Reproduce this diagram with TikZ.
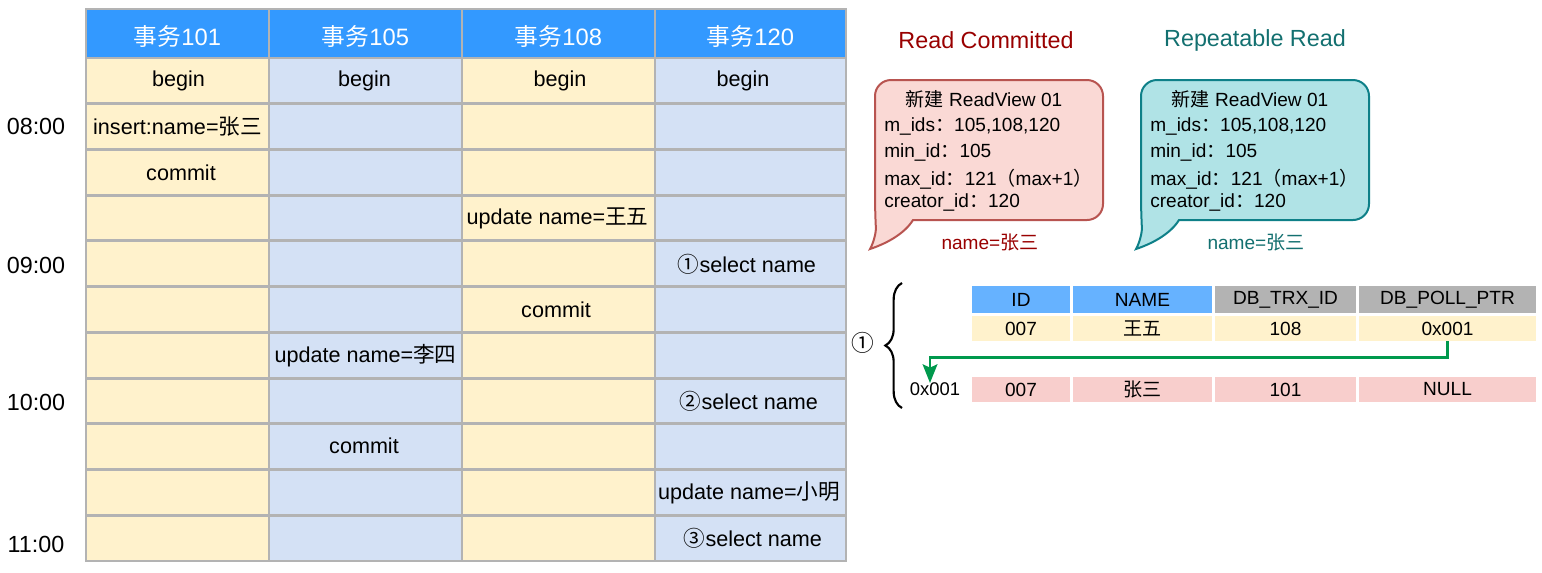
\documentclass[tikz,border=0pt]{standalone}
\usepackage{fontspec}
\setmainfont{Liberation Sans}
\newfontfamily\cjk{Noto Sans CJK SC}
\usetikzlibrary{arrows.meta,decorations.pathreplacing}
\definecolor{hdr}{HTML}{3399FF}
\definecolor{ylw}{HTML}{FFF2CC}
\definecolor{blu}{HTML}{D4E1F5}
\definecolor{gridc}{HTML}{B3B3B3}
\definecolor{rcred}{HTML}{990000}
\definecolor{rrteal}{HTML}{137070}
\definecolor{calredfill}{HTML}{FAD9D5}
\definecolor{calredline}{HTML}{B85450}
\definecolor{caltealfill}{HTML}{B0E3E6}
\definecolor{caltealline}{HTML}{0E8088}
\definecolor{thblue}{HTML}{66B2FF}
\definecolor{thgray}{HTML}{B3B3B3}
\definecolor{rowred}{HTML}{F8CECC}
\definecolor{arrgreen}{HTML}{00994D}
\begin{document}
\begin{tikzpicture}[x=0.75pt,y=-0.75pt,
  gridline/.style={draw=gridc,line width=2.2pt},
  ctext/.style={inner sep=0pt,font=\fontsize{16.2}{19}\selectfont},
  htext/.style={inner sep=0pt,text=white,font=\fontsize{17.8}{20}\selectfont},
  ttext/.style={inner sep=0pt,font=\fontsize{17.5}{20}\selectfont},
  ktext/.style={inner sep=0pt,font=\fontsize{14.3}{17}\selectfont},
  tcell/.style={inner sep=0pt,font=\fontsize{14.3}{17}\selectfont,minimum height=18.75pt},
  arr/.style={draw=arrgreen,line width=2pt,-{Stealth[length=14pt,width=11pt,inset=2.5pt]}},
]
\useasboundingbox (0,0) rectangle (1542,572);
\fill[white] (0,0) rectangle (1542,572);
% ---- main grid ----
\foreach \xl/\xr/\col in {86/269/ylw,269/462/blu,462/655/ylw,655/846/blu}{
  \fill[\col] (\xl,58) rectangle (\xr,561);
  \fill[hdr] (\xl,9) rectangle (\xr,58);
}
\foreach \i in {0,...,10}{
  \draw[gridline] (86,{58+\i*45.727}) -- (846,{58+\i*45.727});
}
\foreach \x in {269,462,655}{
  \draw[gridline] (\x,9) -- (\x,561);
}
\draw[gridline] (86,9) rectangle (846,561);
% headers
\node[htext] (h1) at (177.5,36) {{\cjk 事务}101};
\node[htext] (h2) at (365.5,36) {{\cjk 事务}105};
\node[htext] (h3) at (558.5,36) {{\cjk 事务}108};
\node[htext] (h4) at (750.5,36) {{\cjk 事务}120};
% time labels
\node[ttext] (t8) at (36,126) {08:00};
\node[ttext] (t9) at (36,265) {09:00};
\node[ttext] (t10) at (36,402) {10:00};
\node[ttext] (t11) at (36,544) {11:00};
% cell texts
\node[ctext] (b1) at (178.5,80.9) {begin};
\node[ctext] (b2) at (364.5,80.9) {begin};
\node[ctext] (b3) at (560,80.9) {begin};
\node[ctext] (b4) at (743,80.9) {begin};
\node[ctext] (ins) at (177.5,126.6) {insert:name={\cjk 张三}};
\node[ctext] (cm1) at (181,172.4) {commit};
\node[ctext] (up3) at (557.5,218.1) {update name={\cjk 王五}};
\node[ctext] (s1) at (747,263.8) {{\cjk ①}select name};
\node[ctext] (cm3) at (556,309.5) {commit};
\node[ctext] (up2) at (365.5,355.3) {update name={\cjk 李四}};
\node[ctext] (s2) at (749,401.0) {{\cjk ②}select name};
\node[ctext] (cm2) at (364,445.7) {commit};
\node[ctext] (up4) at (749,492.5) {update name={\cjk 小明}};
\node[ctext] (s3) at (753,538.2) {{\cjk ③}select name};
% ---- titles ----
\node[inner sep=0pt,text=rcred,font=\fontsize{17.5}{20}\selectfont] (rc) at (986,40) {Read Committed};
\node[inner sep=0pt,text=rrteal,font=\fontsize{17.5}{20}\selectfont] (rr) at (1255,40) {Repeatable Read};
% ---- callouts ----
\foreach \dx/\fc/\lc/\tc in {0/calredfill/calredline/rcred,266/caltealfill/caltealline/rrteal}{
\begin{scope}[shift={(\dx,0)}]
\draw[fill=\fc,draw=\lc,line width=1.5pt] (913,220) {[rounded corners=12pt] -- (1103,220) -- (1103,80) -- (875,80) -- (875,212)}
   .. controls (876,230) and (875,240) .. (870,249)
   .. controls (888,243) and (905,233) .. (913,220) -- cycle;
\node[ktext] at (984,99) {{\cjk 新建} ReadView 01};
\node[ktext,anchor=west] at (884,126) {m\_ids{\cjk ：}105,108,120};
\node[ktext,anchor=west] at (884,152) {min\_id{\cjk ：}105};
\node[ktext,anchor=west] at (884,179) {max\_id{\cjk ：}121{\cjk （}max+1{\cjk ）}};
\node[ktext,anchor=west] at (884,202) {creator\_id{\cjk ：}120};
\node[ktext,text=\tc] at (990,242) {name={\cjk 张三}};
\end{scope}
}
% ---- version chain ----
\node[inner sep=0pt,font=\fontsize{17}{20}\selectfont] (c1) at (863,343) {\cjk ①};
\draw[decorate,decoration={brace,amplitude=12.5pt},line width=1.6pt] (902,408) -- (902,283);
\node[tcell,fill=thblue,minimum width=73.5pt,minimum height=20.25pt] (hid) at (1021,299.5) {ID};
\node[tcell,fill=thblue,minimum width=104.25pt,minimum height=20.25pt] (hname) at (1142.5,299.5) {NAME};
\node[tcell,fill=thgray,minimum width=105.75pt,minimum height=20.25pt] (htrx) at (1285.5,299.5) {DB\_TRX\_ID};
\node[tcell,fill=thgray,minimum width=132.75pt,minimum height=20.25pt] (hptr) at (1447.5,299.5) {DB\_POLL\_PTR};
\node[tcell,fill=ylw,minimum width=73.5pt] (a1) at (1021,328.5) {007};
\node[tcell,fill=ylw,minimum width=104.25pt] (a2) at (1142.5,328.5) {\cjk 王五};
\node[tcell,fill=ylw,minimum width=105.75pt] (a3) at (1285.5,328.5) {108};
\node[tcell,fill=ylw,minimum width=132.75pt] (p1) at (1447.5,328.5) {0x001};
\node[tcell,fill=rowred,minimum width=73.5pt] (r1) at (1021,389.5) {007};
\node[tcell,fill=rowred,minimum width=104.25pt] (r2) at (1142.5,389.5) {\cjk 张三};
\node[tcell,fill=rowred,minimum width=105.75pt] (r3) at (1285.5,389.5) {101};
\node[tcell,fill=rowred,minimum width=132.75pt] (r4) at (1447.5,389.5) {NULL};
\node[inner sep=0pt,font=\fontsize{13.8}{16}\selectfont] (lbl) at (935,389) {0x001};
\coordinate (tgt) at (930,383);
\draw[arr] (p1.south) -- ++(0,16) -| (tgt);
\end{tikzpicture}
\end{document}
